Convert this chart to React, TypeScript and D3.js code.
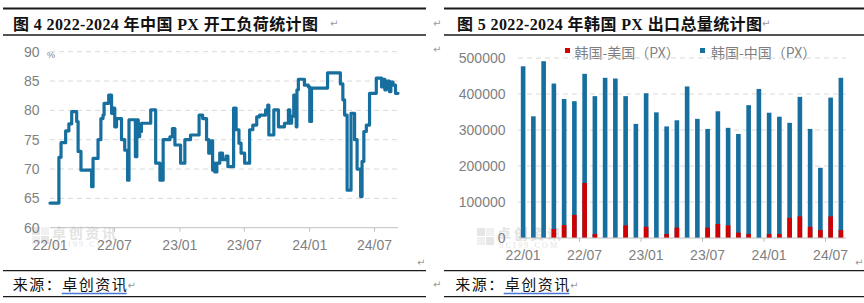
import React from 'react';
import * as d3 from 'd3';

// ---------- Chart 1: China PX operating rate (%) ----------
const opDates = [
  '2022-01-01', '2022-01-26', '2022-02-01', '2022-02-14', '2022-02-23', '2022-03-03', '2022-03-17', '2022-03-21',
  '2022-03-29', '2022-04-28', '2022-05-02', '2022-05-16', '2022-05-24', '2022-05-30', '2022-06-02', '2022-06-15',
  '2022-06-23', '2022-06-27', '2022-07-02', '2022-07-07', '2022-07-21', '2022-07-30', '2022-08-07', '2022-08-11',
  '2022-08-29', '2022-09-02', '2022-09-06', '2022-09-10', '2022-09-15', '2022-10-11', '2022-10-25', '2022-11-06',
  '2022-11-15', '2022-12-04', '2022-12-11', '2022-12-18', '2023-01-03', '2023-01-15', '2023-01-31', '2023-02-24',
  '2023-03-06', '2023-03-17', '2023-03-23', '2023-03-29', '2023-04-03', '2023-04-06', '2023-04-09', '2023-04-15',
  '2023-04-23', '2023-05-01', '2023-05-11', '2023-05-16', '2023-06-01', '2023-06-08', '2023-06-16', '2023-06-22',
  '2023-07-02', '2023-07-16', '2023-07-25', '2023-08-05', '2023-08-13', '2023-08-30', '2023-09-05', '2023-09-08',
  '2023-09-22', '2023-10-05', '2023-10-22', '2023-11-02', '2023-11-06', '2023-11-11', '2023-11-17', '2023-11-24',
  '2023-11-26', '2023-11-30', '2023-12-17', '2023-12-28', '2024-01-01', '2024-01-06', '2024-02-20', '2024-03-27',
  '2024-04-03', '2024-04-08', '2024-04-15', '2024-04-26', '2024-05-06', '2024-05-13', '2024-05-23', '2024-05-27',
  '2024-06-01', '2024-06-08', '2024-06-17', '2024-07-06', '2024-07-21', '2024-07-25', '2024-07-30', '2024-08-03',
  '2024-08-12', '2024-08-16', '2024-08-22', '2024-08-29', '2024-09-05',
];
const opValues = [
  64.2, 72.0, 74.5, 76.5, 77.7, 79.8, 78.1, 73.0,
  69.8, 67.0, 71.8, 75.0, 78.6, 79.2, 81.2, 82.6,
  79.5, 80.4, 77.2, 78.6, 75.0, 73.2, 68.1, 78.4,
  72.1, 78.4, 75.5, 76.4, 77.8, 80.1, 71.0, 68.1,
  75.0, 75.5, 76.9, 74.1, 71.0, 75.0, 75.8, 79.2,
  78.6, 75.0, 72.7, 74.8, 69.8, 71.0, 69.5, 71.0,
  72.7, 71.6, 72.2, 70.4, 80.4, 76.7, 74.4, 72.7,
  71.0, 76.7, 77.5, 78.9, 79.2, 80.1, 80.9, 75.8,
  80.1, 77.2, 77.8, 80.1, 77.8, 79.0, 82.6, 77.2,
  83.5, 85.3, 84.3, 84.0, 78.1, 83.8, 86.4, 84.5,
  81.8, 79.2, 66.4, 79.5, 75.0, 70.0, 65.3, 71.3,
  76.4, 77.5, 82.9, 85.5, 84.0, 85.3, 83.5, 85.0,
  83.2, 84.8, 84.3, 82.9, 82.9,
];
const opYTicks = [60, 65, 70, 75, 80, 85, 90];
const opXTickDates = ['2022-01-01', '2022-07-01', '2023-01-01', '2023-07-01', '2024-01-01', '2024-07-01'];
const opXTickLabels = ['22/01', '22/07', '23/01', '23/07', '24/01', '24/07'];

// ---------- Chart 2: Korea PX exports ----------
const exportMonths = [
  '2022-01', '2022-02', '2022-03', '2022-04', '2022-05', '2022-06', '2022-07', '2022-08',
  '2022-09', '2022-10', '2022-11', '2022-12', '2023-01', '2023-02', '2023-03', '2023-04',
  '2023-05', '2023-06', '2023-07', '2023-08', '2023-09', '2023-10', '2023-11', '2023-12',
  '2024-01', '2024-02', '2024-03', '2024-04', '2024-05', '2024-06', '2024-07', '2024-08',
];
const koreaToChina = [
  477000, 338000, 491000, 429000, 386000, 380000, 456000, 394000,
  445000, 443000, 394000, 317000, 402000, 349000, 310000, 327000,
  421000, 331000, 303000, 352000, 306000, 289000, 369000, 414000,
  348000, 337000, 320000, 392000, 303000, 195000, 390000, 445000,
];
const koreaToUS = [
  0, 0, 0, 25000, 36000, 64000, 153000, 11000,
  0, 0, 35000, 0, 31000, 0, 11000, 29000,
  0, 0, 29000, 39000, 35000, 15000, 11000, 0,
  11000, 11000, 56000, 60000, 31000, 22000, 60000, 22000,
];
const expYTicks = [0, 100000, 200000, 300000, 400000, 500000];
const expXTickMonths = ['2022-01', '2022-07', '2023-01', '2023-07', '2024-01', '2024-07'];
const expXTickLabels = ['22/01', '22/07', '23/01', '23/07', '24/01', '24/07'];
const legendLabels = ['韩国-美国（PX）', '韩国-中国（PX）'];

const BLUE = '#166f9e';
const RED = '#d00000';
const AXIS_TEXT = '#7f7f7f';
const GRID = '#d9d9d9';
const LATIN = "'Liberation Sans', Arial, sans-serif";
const CJK = "'Noto Sans CJK SC', sans-serif";
const TITLE_FONT = "'Liberation Serif', 'Noto Sans CJK SC', serif";

const Pilcrow = ({ x, y }: { x: number; y: number }) => (
  <text x={x} y={y} fontSize={10} fill="#9a9a9a" fontFamily="'DejaVu Sans', sans-serif" dominantBaseline="central">↵</text>
);

const Watermark = ({ x, y }: { x: number; y: number }) => (
  <g opacity={0.5}>
    <rect x={x} y={y} width={8} height={8} fill="#cfcfcf" />
    <rect x={x + 9} y={y} width={8} height={8} fill="#e2e2e2" />
    <rect x={x} y={y + 9} width={8} height={8} fill="#e2e2e2" />
    <rect x={x + 9} y={y + 9} width={8} height={8} fill="#cfcfcf" />
    <text x={x + 20} y={y + 11} fontSize={14} fontWeight="bold" fill="#c8c8c8" fontFamily={CJK} textLength={64}>卓创资讯</text>
    <text x={x + 22} y={y + 20} fontSize={8} fill="#c8c8c8" fontFamily="'Liberation Serif', serif" textLength={58}>SCI99.COM</text>
  </g>
);

export default function App() {
  const parse = d3.utcParse('%Y-%m-%d')!;

  // ---- chart 1 scales
  const opPts: [Date, number][] = opDates.map((d, i) => [parse(d) as Date, opValues[i]]);
  const x1 = d3.scaleUtc().domain(d3.extent(opPts, (d) => d[0]) as [Date, Date]).range([50, 398]);
  const y1 = d3.scaleLinear().domain([60, 90]).range([227.7, 51.7]);
  const lineGen = d3
    .line<[Date, number]>()
    .x((d) => x1(d[0]))
    .y((d) => y1(d[1]))
    .curve(d3.curveStepAfter);

  // ---- chart 2 scales
  const x2 = d3.scaleBand<string>().domain(exportMonths).range([518, 846]).paddingInner(0.55).paddingOuter(0.275);
  const y2 = d3.scaleLinear().domain([0, 500000]).range([238, 58]);
  const bw = x2.bandwidth();
  const step = x2.step();

  return (
    <svg
      width={864}
      height={303}
      viewBox="0 0 864 303"
      style={{ position: 'absolute', left: 0, top: 0, background: '#fff', display: 'block' }}
    >
      <rect x={0} y={0} width={864} height={303} fill="#fff" />

      {/* ================= LEFT PANEL ================= */}
      <line x1={3} x2={426} y1={8.5} y2={8.5} stroke="#1a1a1a" strokeWidth={1.8} />
      <line x1={3} x2={426} y1={35} y2={35} stroke="#1a1a1a" strokeWidth={1.3} />
      <text x={13} y={30} fontSize={16} fontWeight="bold" fontFamily={TITLE_FONT} fill="#111" textLength={305} lengthAdjust="spacing">
        图 4 2022-2024 年中国 PX 开工负荷统计图
      </text>
      <Pilcrow x={330} y={23} />

      <Watermark x={32} y={227} />

      {/* grid */}
      {opYTicks.filter((t) => t > 60).map((t) => (
        <line key={'g1' + t} x1={50} x2={398} y1={y1(t)} y2={y1(t)} stroke={GRID} strokeWidth={1} strokeDasharray="5,4" />
      ))}
      <line x1={50} x2={398} y1={y1(60)} y2={y1(60)} stroke="#bfbfbf" strokeWidth={1} />
      {opXTickDates.slice(1).map((d) => (
        <line key={'t1' + d} x1={x1(parse(d) as Date)} x2={x1(parse(d) as Date)} y1={y1(60)} y2={y1(60) + 4} stroke="#bfbfbf" strokeWidth={1} />
      ))}
      {opYTicks.map((t) => (
        <text key={'yl1' + t} x={39.5} y={y1(t)} fontSize={14} fill={AXIS_TEXT} fontFamily={LATIN} textAnchor="end" dominantBaseline="central">
          {t}
        </text>
      ))}
      <text x={47} y={58} fontSize={9} fill={AXIS_TEXT} fontFamily={LATIN}>%</text>
      {opXTickDates.map((d, i) => (
        <text key={'xl1' + d} x={x1(parse(d) as Date)} y={250} fontSize={14} fill={AXIS_TEXT} fontFamily={LATIN} textAnchor="middle">
          {opXTickLabels[i]}
        </text>
      ))}
      <path d={lineGen(opPts) || ''} fill="none" stroke={BLUE} strokeWidth={3.2} strokeLinejoin="round" strokeLinecap="round" />

      <Pilcrow x={417} y={262} />
      <line x1={3} x2={426} y1={270.7} y2={270.7} stroke="#1a1a1a" strokeWidth={1.3} />
      <text x={12.7} y={290} fontSize={15} fontFamily={CJK} fill="#111" textLength={114} lengthAdjust="spacing">
        来源：卓创资讯
      </text>
      <line x1={61.7} x2={126.7} y1={293.5} y2={293.5} stroke="#4a78d4" strokeWidth={1.6} />
      <Pilcrow x={127.5} y={285} />
      <line x1={3} x2={426} y1={296.7} y2={296.7} stroke="#1a1a1a" strokeWidth={1.3} />

      {/* ================= RIGHT PANEL ================= */}
      <line x1={444} x2={864} y1={8.5} y2={8.5} stroke="#1a1a1a" strokeWidth={1.8} />
      <line x1={444} x2={864} y1={35} y2={35} stroke="#1a1a1a" strokeWidth={1.3} />
      <Pilcrow x={433} y={23} />
      <text x={457} y={30} fontSize={16} fontWeight="bold" fontFamily={TITLE_FONT} fill="#111" textLength={305} lengthAdjust="spacing">
        图 5 2022-2024 年韩国 PX 出口总量统计图
      </text>
      <Pilcrow x={762} y={23} />
      <Pilcrow x={433} y={49} />

      <Watermark x={477} y={228} />

      {/* legend */}
      <rect x={565} y={48} width={5} height={5} fill={RED} />
      <text x={574.5} y={51.5} fontSize={14} fill={AXIS_TEXT} fontFamily={CJK} dominantBaseline="central">{legendLabels[0]}</text>
      <rect x={700} y={48} width={5} height={5} fill={BLUE} />
      <text x={711} y={51.5} fontSize={14} fill={AXIS_TEXT} fontFamily={CJK} dominantBaseline="central">{legendLabels[1]}</text>

      {/* grid */}
      {expYTicks.filter((t) => t > 0).map((t) => (
        <line key={'g2' + t} x1={518} x2={846} y1={y2(t)} y2={y2(t)} stroke={GRID} strokeWidth={1} strokeDasharray="5,4" />
      ))}
      {expYTicks.map((t) => (
        <text key={'yl2' + t} x={505.5} y={y2(t)} fontSize={14} fill={AXIS_TEXT} fontFamily={LATIN} textAnchor="end" dominantBaseline="central">
          {t}
        </text>
      ))}

      {/* bars: China (behind), US (front, overlapped) */}
      {exportMonths.map((m, i) => (
        <rect key={'b' + m} x={x2(m)!} y={y2(koreaToChina[i])} width={bw} height={y2(0) - y2(koreaToChina[i])} fill={BLUE} />
      ))}
      {exportMonths.map((m, i) =>
        koreaToUS[i] > 0 ? (
          <rect key={'r' + m} x={x2(m)!} y={y2(koreaToUS[i])} width={bw} height={y2(0) - y2(koreaToUS[i])} fill={RED} />
        ) : null
      )}

      <line x1={518} x2={846} y1={y2(0)} y2={y2(0)} stroke="#bfbfbf" strokeWidth={1} />
      {expXTickMonths.slice(1).map((m) => {
        const tx = x2(m)! + bw / 2 - step / 2;
        return <line key={'t2' + m} x1={tx} x2={tx} y1={y2(0)} y2={y2(0) + 4} stroke="#bfbfbf" strokeWidth={1} />;
      })}
      {expXTickMonths.map((m, i) => (
        <text key={'xl2' + m} x={x2(m)! + bw / 2} y={260} fontSize={14} fill={AXIS_TEXT} fontFamily={LATIN} textAnchor="middle">
          {expXTickLabels[i]}
        </text>
      ))}

      <Pilcrow x={855} y={262} />
      <line x1={444} x2={864} y1={270.7} y2={270.7} stroke="#1a1a1a" strokeWidth={1.3} />
      <Pilcrow x={433} y={284} />
      <text x={455.3} y={290} fontSize={15} fontFamily={CJK} fill="#111" textLength={114} lengthAdjust="spacing">
        来源：卓创资讯
      </text>
      <line x1={503.7} x2={569.3} y1={293.5} y2={293.5} stroke="#4a78d4" strokeWidth={1.6} />
      <Pilcrow x={570} y={285} />
      <line x1={444} x2={864} y1={296.7} y2={296.7} stroke="#1a1a1a" strokeWidth={1.3} />
    </svg>
  );
}
